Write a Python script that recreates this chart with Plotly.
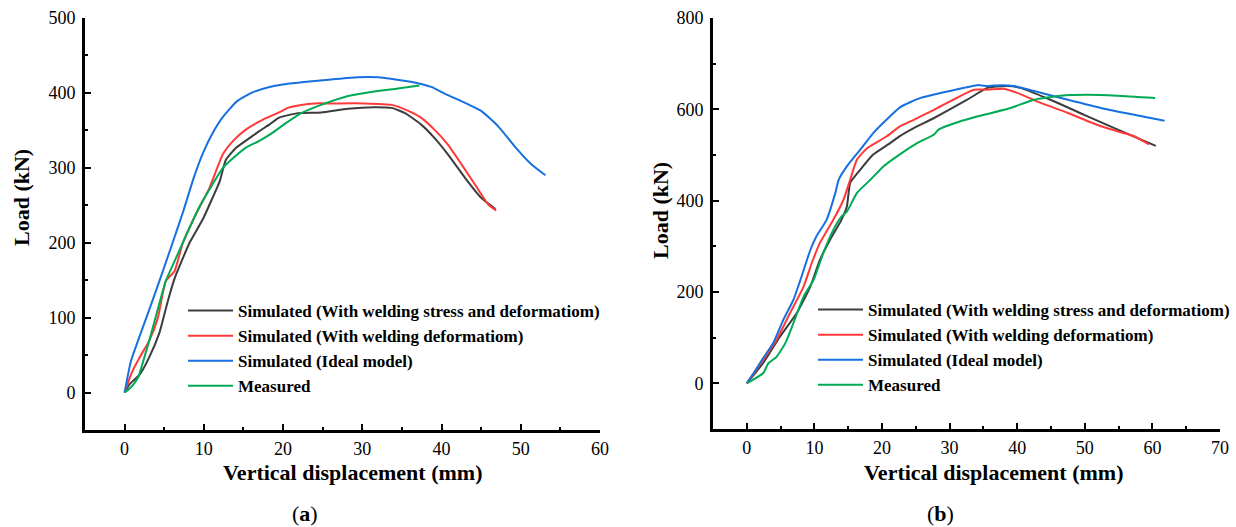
import plotly.graph_objects as go

# ---------------- data: panel (a) ----------------
a_black_x = [0, 0.6, 1.9, 3.1, 4.4, 5.4, 6.3, 7.3, 8.2, 9.9, 11.1, 12.0, 12.8, 14.1, 15.8, 17.0, 18.3, 19.5, 21.9, 24.8, 28.2, 31.5, 33.7, 35.4, 37.4, 39.1, 40.8, 43.3, 45.0, 46.8]
a_black_y = [0, 11, 24, 47, 80, 120, 152, 178, 200, 232, 260, 282, 311, 327, 340, 349, 358, 367, 373, 374, 379, 381, 380, 373, 358, 340, 318, 282, 260, 245]
a_red_x = [0, 0.8, 1.9, 3.1, 4.2, 5.2, 6.3, 7.3, 9.0, 10.7, 12.4, 13.7, 15.3, 17.4, 19.5, 20.6, 22.3, 24.0, 26.1, 30.3, 33.7, 35.8, 37.4, 39.1, 40.8, 42.5, 44.2, 45.9, 46.9]
a_red_y = [0, 24, 47, 69, 100, 149, 162, 198, 238, 273, 318, 336, 351, 364, 374, 380, 384, 386, 386, 386, 384, 376, 367, 351, 331, 305, 278, 251, 243]
a_blue_x = [0, 0.8, 2.3, 4.0, 5.8, 7.4, 8.7, 9.9, 11.2, 12.4, 14.2, 16.2, 18.3, 20.4, 24.0, 26.1, 29.4, 32.0, 33.6, 36.6, 38.7, 40.8, 42.1, 43.3, 45.0, 47.1, 49.2, 51.3, 53.1]
a_blue_y = [0, 42, 87, 137, 192, 242, 286, 320, 348, 368, 389, 401, 408, 412, 416, 418, 421, 421, 419, 414, 408, 397, 391, 385, 376, 356, 329, 305, 290]
a_green_x = [0, 0.8, 1.7, 2.1, 3.1, 4.0, 5.2, 6.5, 7.8, 9.4, 11.1, 12.4, 13.7, 15.3, 17.0, 18.7, 20.4, 22.3, 24.8, 28.2, 31.5, 34.5, 37.2]
a_green_y = [0, 7, 20, 33, 69, 104, 149, 180, 211, 247, 278, 300, 313, 327, 336, 347, 360, 373, 384, 396, 402, 406, 410]

# ---------------- data: panel (b) ----------------
b_black_x = [0, 2.4, 4.9, 7.4, 9.4, 10.8, 12.3, 14.0, 14.8, 15.3, 16.8, 18.7, 21.2, 22.7, 24.7, 27.7, 32.6, 35.6, 38.5, 40.5, 44.9, 49.9, 54.8, 60.5]
b_black_y = [0, 44, 102, 154, 212, 270, 314, 358, 387, 439, 468, 501, 526, 542, 559, 581, 621, 647, 651, 647, 621, 588, 556, 520]
b_red_x = [0, 2.4, 4.4, 6.4, 8.4, 9.6, 10.8, 12.8, 14.3, 15.3, 16.3, 17.8, 20.7, 22.7, 24.7, 27.7, 33.6, 35.6, 38.0, 40.0, 43.5, 47.5, 52.4, 57.3, 59.5]
b_red_y = [0, 51, 95, 154, 212, 263, 307, 358, 402, 446, 490, 515, 541, 563, 577, 599, 643, 643, 645, 636, 614, 592, 563, 541, 523]
b_blue_x = [0, 1.0, 2.4, 3.9, 5.4, 6.9, 8.1, 9.4, 10.3, 11.8, 13.1, 13.6, 14.8, 16.8, 18.7, 21.2, 22.7, 25.7, 28.7, 34.1, 35.6, 37.6, 39.5, 42.5, 47.5, 52.4, 57.3, 61.8]
b_blue_y = [0, 22, 55, 88, 139, 183, 234, 292, 322, 358, 417, 446, 475, 512, 548, 585, 605, 625, 636, 653, 651, 653, 651, 640, 621, 603, 588, 575]
b_green_x = [0, 2.4, 3.2, 4.4, 5.7, 6.9, 8.4, 9.9, 11.3, 12.8, 14.0, 14.8, 16.3, 18.3, 20.2, 22.7, 25.2, 27.7, 28.4, 31.6, 35.1, 39.0, 42.5, 46.4, 50.4, 54.8, 60.4]
b_green_y = [0, 22, 44, 58, 88, 132, 190, 227, 285, 336, 365, 376, 417, 446, 475, 502, 526, 545, 556, 574, 588, 603, 621, 630, 632, 630, 625]

series_names = [
    "Simulated (With welding stress and deformatiom)",
    "Simulated (With welding deformatiom)",
    "Simulated (Ideal model)",
    "Measured",
]
colors = ["#3c3c3c", "#ff3838", "#1670e0", "#00aa55"]

x_title = "Vertical displacement (mm)"
y_title = "Load (kN)"

SERIF = "Liberation Serif, Times New Roman, DejaVu Serif, serif"

fig = go.Figure()

panel_a = [(a_black_x, a_black_y), (a_red_x, a_red_y), (a_blue_x, a_blue_y), (a_green_x, a_green_y)]
panel_b = [(b_black_x, b_black_y), (b_red_x, b_red_y), (b_blue_x, b_blue_y), (b_green_x, b_green_y)]

for i, (xs, ys) in enumerate(panel_a):
    fig.add_trace(go.Scatter(x=xs, y=ys, mode="lines", name=series_names[i],
                             line=dict(color=colors[i], width=2, shape="spline", smoothing=0.5),
                             xaxis="x", yaxis="y", legend="legend"))
for i, (xs, ys) in enumerate(panel_b):
    fig.add_trace(go.Scatter(x=xs, y=ys, mode="lines", name=series_names[i],
                             line=dict(color=colors[i], width=2, shape="spline", smoothing=0.5),
                             xaxis="x2", yaxis="y2", legend="legend2"))

W, H = 1236, 527

def px_x(p):
    return p / W

def px_y(p):
    return 1 - p / H

axis_common = dict(
    showline=True, linecolor="black", linewidth=3, mirror=False,
    ticks="inside", ticklen=6, tickwidth=2, tickcolor="black",
    showgrid=False, zeroline=False, automargin=False,
    tickfont=dict(family=SERIF, size=18, color="black"),
)
minor_common = dict(ticks="inside", ticklen=3, tickwidth=2, tickcolor="black")

legend_font = dict(family=SERIF, size=17, color="black", weight="bold")

fig.update_layout(
    template="none",
    font=dict(family=SERIF),
    width=W, height=H,
    margin=dict(l=0, r=0, t=0, b=0, autoexpand=False),
    paper_bgcolor="white", plot_bgcolor="white",
    xaxis=dict(domain=[px_x(85), px_x(600)], range=[-5, 60], dtick=10, anchor="y",
               minor=dict(dtick=5, **minor_common), ticklabelstandoff=0, **axis_common),
    yaxis=dict(domain=[px_y(430), px_y(18)], range=[-50, 500], dtick=100, anchor="x",
               minor=dict(dtick=50, **minor_common), ticklabelstandoff=3, **axis_common),
    xaxis2=dict(domain=[px_x(713), px_x(1220)], range=[-5, 70], dtick=10, anchor="y2",
                minor=dict(dtick=5, **minor_common), ticklabelstandoff=0, **axis_common),
    yaxis2=dict(domain=[px_y(429), px_y(18)], range=[-100, 800], dtick=200, anchor="x2",
                minor=dict(dtick=100, **minor_common), ticklabelstandoff=3, **axis_common),
    legend=dict(x=px_x(183), y=px_y(293), xanchor="left", yanchor="top",
                bgcolor="rgba(0,0,0,0)", borderwidth=0, font=legend_font,
                itemwidth=45, tracegroupgap=0),
    legend2=dict(x=px_x(813), y=px_y(292), xanchor="left", yanchor="top",
                 bgcolor="rgba(0,0,0,0)", borderwidth=0, font=legend_font,
                 itemwidth=45, tracegroupgap=0),
    showlegend=True,
)

title_font = dict(family=SERIF, size=22, color="black")
annotations = [
    dict(text="<b>" + x_title + "</b>", x=px_x(352), y=px_y(472), font=title_font),
    dict(text="<b>" + x_title + "</b>", x=px_x(993), y=px_y(472), font=title_font),
    dict(text="<b>" + y_title + "</b>", x=px_x(21), y=px_y(198), textangle=-90, font=title_font),
    dict(text="<b>" + y_title + "</b>", x=px_x(660), y=px_y(211), textangle=-90, font=title_font),
    dict(text="(<b>a</b>)", x=px_x(305), y=px_y(513), font=dict(family=SERIF, size=22, color="black")),
    dict(text="(<b>b</b>)", x=px_x(940), y=px_y(513), font=dict(family=SERIF, size=22, color="black")),
]
for a in annotations:
    a.update(xref="paper", yref="paper", showarrow=False, xanchor="center", yanchor="middle")
fig.update_layout(annotations=annotations)

fig.write_html("out.html")
